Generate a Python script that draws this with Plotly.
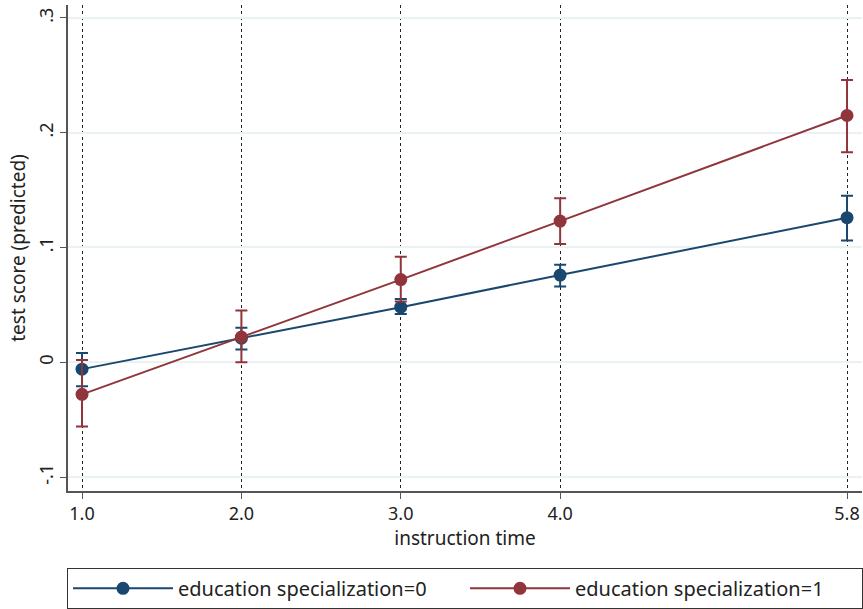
import plotly.graph_objects as go

# instruction time levels
x_vals = [1.0, 2.0, 3.0, 4.0, 5.8]
x_labels = ["1.0", "2.0", "3.0", "4.0", "5.8"]

# predicted test score, education specialization = 0
spec0_y = [-0.006, 0.021, 0.048, 0.076, 0.126]
spec0_hi = [0.008, 0.030, 0.055, 0.085, 0.145]
spec0_lo = [-0.021, 0.011, 0.042, 0.066, 0.106]

# predicted test score, education specialization = 1
spec1_y = [-0.028, 0.022, 0.072, 0.123, 0.215]
spec1_hi = [0.002, 0.045, 0.092, 0.143, 0.246]
spec1_lo = [-0.056, 0.000, 0.053, 0.103, 0.183]

y_ticks = [-0.1, 0, 0.1, 0.2, 0.3]
y_labels = ["-.1", "0", ".1", ".2", ".3"]

BLUE = "#1a476f"
RED = "#90353b"
FONT = "Noto Sans"


def ci_trace(name, y, hi, lo, color):
    return go.Scatter(
        x=x_vals,
        y=y,
        name=name,
        mode="lines+markers",
        cliponaxis=False,
        line={"color": color, "width": 2},
        marker={"color": color, "size": 13},
        error_y={
            "type": "data",
            "symmetric": False,
            "array": [h - v for h, v in zip(hi, y)],
            "arrayminus": [v - l for v, l in zip(y, lo)],
            "color": color,
            "thickness": 2,
            "width": 6,
        },
    )


fig = go.Figure()
fig.add_trace(ci_trace("education specialization=0", spec0_y, spec0_hi, spec0_lo, BLUE))
fig.add_trace(ci_trace("education specialization=1", spec1_y, spec1_hi, spec1_lo, RED))

fig.update_layout(
    width=863,
    height=609,
    paper_bgcolor="white",
    plot_bgcolor="white",
    font={"family": FONT, "size": 18, "color": "#222"},
    margin={"l": 68, "r": 0, "t": 5, "b": 118},
    showlegend=True,
    legend={
        "orientation": "h",
        "x": 0.5,
        "xanchor": "center",
        "y": -0.158,
        "yanchor": "top",
        "bordercolor": "#333",
        "borderwidth": 1,
        "itemwidth": 100,
        "entrywidth": 282,
        "font": {"size": 20},
    },
)
fig.update_xaxes(
    range=[0.912, 5.894],
    automargin=False,
    tickvals=x_vals,
    ticktext=x_labels,
    ticks="outside",
    ticklen=6,
    tickcolor="#555",
    showline=True,
    linecolor="#555",
    linewidth=1.5,
    showgrid=True,
    gridcolor="#222",
    griddash="dot",
    gridwidth=1,
    zeroline=False,
    title={"text": "instruction time", "standoff": 4, "font": {"size": 19}},
)
fig.update_yaxes(
    range=[-0.1122, 0.3113],
    automargin=False,
    tickvals=y_ticks,
    ticktext=y_labels,
    tickangle=-90,
    ticks="outside",
    ticklen=6,
    tickcolor="#555",
    showline=True,
    linecolor="#555",
    linewidth=1.5,
    showgrid=True,
    gridcolor="#eaf2f3",
    gridwidth=1.5,
    zeroline=False,
    title={"text": "test score (predicted)", "standoff": 3, "font": {"size": 19}},
)

fig.write_html(
    "out.html",
    config={"displayModeBar": False},
    post_script="document.body.style.margin = '0';",
)
